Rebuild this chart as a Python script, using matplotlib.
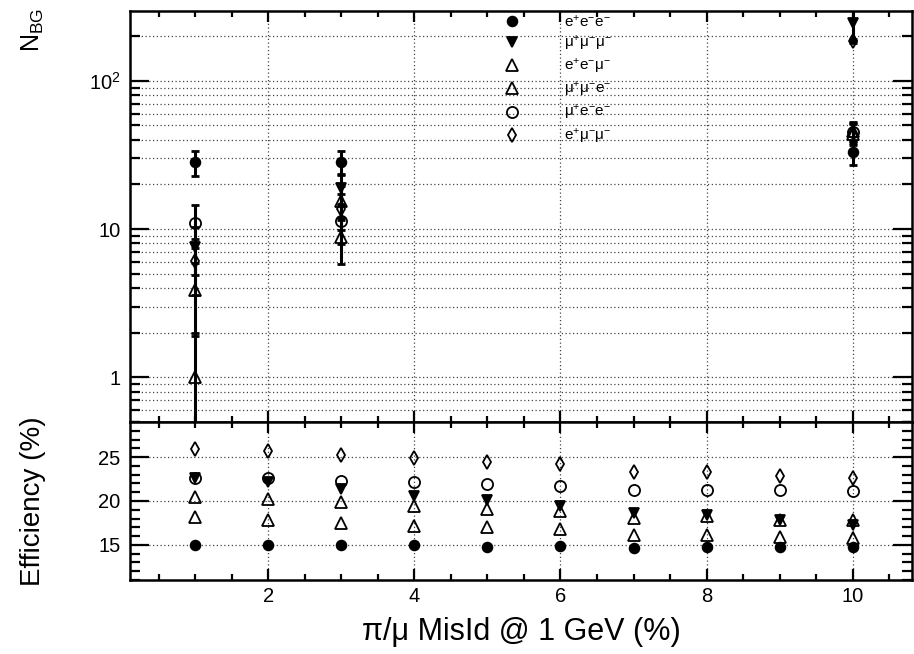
import matplotlib
matplotlib.use("Agg")
import matplotlib.pyplot as plt
from matplotlib.ticker import MultipleLocator, FixedLocator, FixedFormatter, LogLocator, NullFormatter

plt.rcParams['font.family'] = ['Liberation Sans', 'DejaVu Sans']
plt.rcParams['mathtext.fontset'] = 'custom'
plt.rcParams['mathtext.rm'] = 'Liberation Sans'
plt.rcParams['mathtext.it'] = 'Liberation Sans:italic'
plt.rcParams['mathtext.bf'] = 'Liberation Sans:bold'

# ---------------- data ----------------
labels = [r'$\mathrm{e^{+}e^{-}e^{-}}$', r'$\mathrm{μ^{+}μ^{-}μ^{-}}$', r'$\mathrm{e^{+}e^{-}μ^{-}}$',
          r'$\mathrm{μ^{+}μ^{-}e^{-}}$', r'$\mathrm{μ^{+}e^{-}e^{-}}$', r'$\mathrm{e^{+}μ^{-}μ^{-}}$']

x_top = [1, 3, 10]
nbg_eee = [28.4, 28.4, 33.0]
nbg_mmm = [7.6, 19.0, 245.0]
nbg_eem = [3.9, 15.5, 46.0]
nbg_mme = [1.0, 8.8, 44.0]
nbg_mee = [11.0, 11.3, 45.0]
nbg_emm = [6.1, 13.6, 186.0]

err_eee = [5.5, 5.4, 6.0]
err_mmm = [2.7, 4.4, 60.0]
err_eem = [2.0, 4.0, 7.0]
err_mme = [1.0, 3.0, 7.0]
err_mee = [3.5, 3.4, 7.0]
err_emm = [2.5, 3.7, 6.0]

x_eff = [1, 2, 3, 4, 5, 6, 7, 8, 9, 10]
eff_eee = [15.0, 15.0, 15.0, 15.0, 14.8, 14.9, 14.7, 14.8, 14.8, 14.8]
eff_mmm = [22.6, 22.2, 21.4, 20.6, 20.1, 19.4, 18.6, 18.4, 17.8, 17.3]
eff_eem = [20.4, 20.2, 19.9, 19.4, 19.1, 18.9, 18.1, 18.3, 17.8, 17.8]
eff_mme = [18.2, 17.8, 17.5, 17.2, 17.0, 16.8, 16.1, 16.1, 15.9, 15.8]
eff_mee = [22.6, 22.6, 22.3, 22.2, 21.9, 21.7, 21.2, 21.3, 21.2, 21.1]
eff_emm = [25.9, 25.7, 25.2, 24.9, 24.4, 24.2, 23.3, 23.3, 22.9, 22.6]

top_yticks = [1, 10, 100]
top_yticklabels = ['1', '10', r'$\mathrm{10^{2}}$']
eff_yticks = [15, 20, 25]
x_ticks = [2, 4, 6, 8, 10]

# ---------------- styles ----------------
styles = [
    dict(marker='o', ms=7, mfc='black', mec='black'),
    dict(marker='v', ms=7.5, mfc='black', mec='black'),
    dict(marker='^', ms=8, mfc='none', mec='black'),
    dict(marker='^', ms=8, mfc='none', mec='black'),
    dict(marker='o', ms=8, mfc='none', mec='black'),
    dict(marker='d', ms=7, mfc='none', mec='black'),
]

W, H = 914, 654
fig = plt.figure(figsize=(W / 100, H / 100), dpi=100)
L, R = 130, 912
ax1 = fig.add_axes([L / W, 1 - 422 / H, (R - L) / W, (422 - 11) / H])
ax2 = fig.add_axes([L / W, 1 - 580 / H, (R - L) / W, (580 - 422) / H])

grid_kw = dict(color='#444444', linestyle=(0, (1, 2)), linewidth=0.9)

# ---- top panel ----
top_vals = [nbg_eee, nbg_mmm, nbg_eem, nbg_mme, nbg_mee, nbg_emm]
top_errs = [err_eee, err_mmm, err_eem, err_mme, err_mee, err_emm]
for vals, errs, st in zip(top_vals, top_errs, styles):
    ax1.errorbar(x_top, vals, yerr=errs, fmt='none', ecolor='black', elinewidth=2.2,
                 capsize=3, capthick=2, zorder=3)
    ax1.plot(x_top, vals, linestyle='none', mew=1.3, zorder=4, **st)

ax1.set_yscale('log')
ax1.set_ylim(0.5, 296)
ax1.set_xlim(0.11, 10.81)
ax1.yaxis.set_major_locator(FixedLocator(top_yticks))
ax1.yaxis.set_major_formatter(FixedFormatter(top_yticklabels))
ax1.yaxis.set_minor_locator(LogLocator(base=10, subs=[2, 3, 4, 5, 6, 7, 8, 9], numticks=20))
ax1.yaxis.set_minor_formatter(NullFormatter())
ax1.xaxis.set_major_locator(FixedLocator(x_ticks))
ax1.xaxis.set_minor_locator(MultipleLocator(0.5))
ax1.tick_params(axis='x', labelbottom=False)
ax1.grid(True, which='both', axis='y', **grid_kw)
ax1.grid(True, which='major', axis='x', **grid_kw)

# ---- bottom panel ----
eff_vals = [eff_eee, eff_mmm, eff_eem, eff_mme, eff_mee, eff_emm]
handles = []
for vals, st, lab in zip(eff_vals, styles, labels):
    h, = ax2.plot(x_eff, vals, linestyle='none', mew=1.3, zorder=4, label=lab, **st)
    handles.append(h)
ax2.set_xlim(0.11, 10.81)
ax2.set_ylim(11, 29)
ax2.yaxis.set_major_locator(FixedLocator(eff_yticks))
ax2.yaxis.set_minor_locator(MultipleLocator(1))
ax2.xaxis.set_major_locator(FixedLocator(x_ticks))
ax2.xaxis.set_minor_locator(MultipleLocator(0.5))
ax2.grid(True, which='major', axis='both', **grid_kw)

for ax in (ax1, ax2):
    ax.set_axisbelow(True)
    for s in ax.spines.values():
        s.set_linewidth(1.8)
    ax.tick_params(which='both', direction='in', top=True, right=True, width=1.6,
                   labelsize=14.5, colors='black')
    ax.tick_params(axis='x', which='major', length=8, pad=5)
    ax.tick_params(axis='x', which='minor', length=4)
    ax.tick_params(axis='y', which='major', length=14, pad=7)
    ax.tick_params(axis='y', which='minor', length=7)

leg = ax1.legend(handles=handles, loc='upper left', bbox_to_anchor=(0.466, 1.0),
                 frameon=False, fontsize=11, handlelength=2.0, handletextpad=2.4,
                 labelspacing=0.28, borderaxespad=0.0, borderpad=0.15)

fig.text(33 / W, 1 - 8 / H, r'$\mathrm{N_{BG}}$', rotation=90, ha='center', va='top', fontsize=18)
fig.text(33 / W, 1 - 501 / H, 'Efficiency (%)', rotation=90, ha='center', va='center', fontsize=20)
fig.text(521 / W, 1 - 632 / H, 'π/μ MisId @ 1 GeV (%)', ha='center', va='center', fontsize=22)

fig.savefig('out.png', dpi=100)
